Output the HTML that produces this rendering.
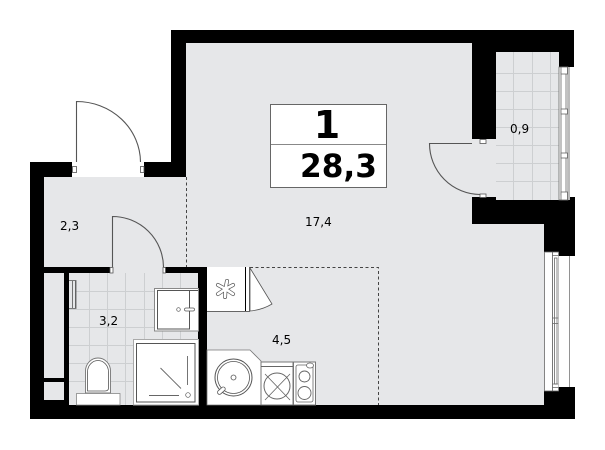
<!DOCTYPE html>
<html><head><meta charset="utf-8"><style>
html,body{margin:0;padding:0;background:#fff}
svg{display:block}
text{font-family:"DejaVu Sans","Liberation Sans",sans-serif;fill:#000}
</style></head><body>
<svg width="605" height="450" viewBox="0 0 605 450" xmlns="http://www.w3.org/2000/svg">
<rect width="605" height="450" fill="#fff"/>
<!-- walls -->
<path fill="#000" d="M171 30H574V67H559V52H496V139H472V43H186V177H44V405H544V391H559V387H575V419H30V162H72V177H144V162H171Z"/>
<path fill="#000" d="M472 197H575V256H559V252H544V224H472Z"/>
<!-- floors -->
<path fill="#e6e7e9" d="M186 43H472V139H496V197H472V224H544V405H207V267H44V177H186Z"/>
<rect x="110" y="262" width="55" height="11" fill="#e6e7e9"/>
<rect x="496" y="52" width="63" height="148" fill="#e6e7e9"/>
<rect x="69" y="273" width="129" height="132" fill="#e6e7e9"/>
<rect x="44" y="273" width="20" height="105" fill="#e6e7e9"/>
<rect x="44" y="382" width="20" height="18" fill="#e6e7e9"/>
<!-- interior black -->
<rect x="44" y="267" width="66" height="6" fill="#000"/>
<rect x="165" y="267" width="42" height="6" fill="#000"/>
<rect x="198" y="267" width="9" height="138" fill="#000"/>
<rect x="64" y="273" width="5" height="132" fill="#000"/>
<rect x="44" y="378" width="20" height="4" fill="#000"/>
<rect x="44" y="400" width="20" height="5" fill="#000"/>
<rect x="30" y="405" width="545" height="14" fill="#000"/>
<rect x="72" y="162" width="72" height="15" fill="#fff"/>
<!-- tiles -->
<g stroke="#cdcfd1" stroke-width="1" fill="none">
<path d="M89.500 273V405M107.500 273V405M125.500 273V405M144.500 273V405M162.500 273V405M180.500 273V405"/>
<path d="M69 291.500H198M69 309.500H198M69 327.500H198M69 345.500H198M69 363.500H198M69 381.500H198"/>
<path d="M513.500 52V200M532.500 52V200M550.500 52V200"/>
<path d="M496 73.500H559M496 91.500H559M496 109.500H559M496 127.500H559M496 145.500H559M496 163.500H559M496 181.500H559"/>
</g>
<!-- dashed -->
<g stroke="#444" stroke-width="1" fill="none" stroke-dasharray="3 2.500">
<path d="M186.500 177V267"/>
<path d="M250 267.500H378.500V405"/>
</g>
<!-- doors -->
<g stroke="#555" stroke-width="1.100" fill="none">
<path d="M76.500 162V101.500A64 61 0 0 1 140.500 162"/>
<path d="M112.500 267V216.500A51 51 0 0 1 163.500 267"/>
<path d="M472 143.500H429.500A51 51 0 0 0 480 194.500"/>
</g>
<g fill="#fff" stroke="#555" stroke-width="0.800">
<rect x="72.500" y="166.500" width="4" height="6"/><rect x="140.500" y="166.500" width="3.500" height="6"/>
<rect x="110" y="267.500" width="3" height="5.500"/><rect x="163" y="267.500" width="2.500" height="5.500"/>
<rect x="480" y="139.500" width="6" height="4"/><rect x="480" y="194" width="6" height="3.500"/>
</g>
<!-- balcony window -->
<g fill="#fff" stroke="#666" stroke-width="0.800">
<rect x="559" y="67" width="9" height="133"/>
<rect x="561" y="72" width="5" height="123"/>
<rect x="561" y="67" width="6.500" height="7"/><rect x="561" y="109" width="6.500" height="5"/><rect x="561" y="153" width="6.500" height="5"/><rect x="561" y="192" width="6.500" height="8"/>
</g>
<rect x="568" y="67" width="2" height="133" fill="#bbb"/>
<!-- right window -->
<g fill="#fff" stroke="#666" stroke-width="0.800">
<rect x="544.500" y="252" width="8" height="139"/>
<rect x="552.500" y="252" width="6" height="139"/>
<rect x="554.500" y="258" width="2.500" height="126"/>
<path d="M552.500 255.500H558.500M552.500 318H558.500M552.500 323.500H558.500M552.500 384H558.500M552.500 387.500H558.500"/>
</g>
<rect x="558.500" y="256" width="16" height="131" fill="#fff"/>
<path d="M569.500 256V387" stroke="#777" stroke-width="0.800"/>
<!-- kitchen -->
<rect x="207" y="267" width="43" height="44" fill="#fff"/>
<path d="M245.500 267V311" stroke="#000" stroke-width="1"/>
<path d="M249.500 267V311.500H207" stroke="#666" stroke-width="1" fill="none"/>
<path d="M250 268L272 304Q262 310 250 311Z" fill="#fff" stroke="#555" stroke-width="0.800"/>
<g stroke-linecap="round" fill="none">
<path d="M225.500 289L227 281M225.500 289L233 285M225.500 289L233 294M225.500 289L225 297M225.500 289L218 294M225.500 289L218 285" stroke="#555" stroke-width="4"/>
<path d="M225.500 289L227 281M225.500 289L233 285M225.500 289L233 294M225.500 289L225 297M225.500 289L218 294M225.500 289L218 285" stroke="#fff" stroke-width="2.600"/>
</g>
<path d="M207 350H250L261 361V405H207Z" fill="#fff" stroke="#777" stroke-width="0.800"/>
<g fill="none" stroke="#555">
<circle cx="233.500" cy="377.500" r="18.500" stroke-width="1"/>
<circle cx="233.500" cy="377.500" r="16" stroke-width="0.800"/>
<circle cx="233.500" cy="377.500" r="2.500" stroke-width="0.800"/>
</g>
<rect x="217" y="389" width="9" height="4" rx="2" transform="rotate(-42 221 391)" fill="#fff" stroke="#555" stroke-width="0.800"/>
<rect x="261" y="362" width="32" height="43" fill="#fff" stroke="#777" stroke-width="1"/>
<path d="M261 366.500H293" stroke="#666" stroke-width="1"/>
<circle cx="277" cy="386" r="13" fill="#fff" stroke="#666" stroke-width="1"/>
<path d="M265 374L290 400M290 374L265 400" stroke="#666" stroke-width="0.800"/>
<rect x="293.500" y="362" width="22" height="43" fill="#fff" stroke="#777" stroke-width="1"/>
<rect x="296" y="365" width="17" height="37" rx="2" fill="none" stroke="#666" stroke-width="0.800"/>
<circle cx="304.500" cy="376.500" r="5.500" fill="#fff" stroke="#666" stroke-width="0.900"/>
<circle cx="304.500" cy="393" r="6.500" fill="#fff" stroke="#666" stroke-width="0.900"/>
<ellipse cx="310" cy="365.500" rx="3.500" ry="2.500" fill="#fff" stroke="#666" stroke-width="0.800"/>
<!-- bathroom fixtures -->
<rect x="154.500" y="288.500" width="44" height="42.500" fill="#fff" stroke="#888" stroke-width="1"/>
<path d="M198 290.500H157.500V329H189.500V290.500" fill="none" stroke="#555" stroke-width="1"/>
<circle cx="178.500" cy="309.500" r="1.800" fill="#fff" stroke="#555" stroke-width="0.700"/>
<rect x="184.500" y="308" width="10" height="3" rx="1.500" fill="#fff" stroke="#555" stroke-width="0.700"/>
<rect x="133.500" y="339.500" width="65" height="65.500" fill="#fff" stroke="#aaa" stroke-width="1"/>
<rect x="136.500" y="343.500" width="58.500" height="58.500" fill="#fff" stroke="#555" stroke-width="1"/>
<path d="M160.500 368L181 388.500M187.500 356V385M149 395.500H179" stroke="#666" stroke-width="0.900"/>
<circle cx="188" cy="395" r="2.300" fill="#fff" stroke="#555" stroke-width="0.700"/>
<path d="M85.500 393V371A12.500 13 0 0 1 110.500 371V393Z" fill="#fff" stroke="#777" stroke-width="0.900"/>
<path d="M87.500 391V372A10.500 11.500 0 0 1 108.500 372V388Q108.500 391 105 391Z" fill="#fff" stroke="#555" stroke-width="0.800"/>
<rect x="76.500" y="393.500" width="43.500" height="11.500" fill="#fff" stroke="#888" stroke-width="0.800"/>
<path d="M69 280.500H76V308.500H69M72.500 281V308M75.500 281V308" fill="#e6e7e9" stroke="#555" stroke-width="0.800"/>
<!-- legend -->
<rect x="270.500" y="104.500" width="116" height="83" fill="#fff" stroke="#666" stroke-width="1"/>
<path d="M271 144.500H386" stroke="#888" stroke-width="1"/>
<text x="327" y="138" text-anchor="middle" font-size="38" font-weight="700">1</text>
<text x="300" y="177" font-size="32" font-weight="700" textLength="77" lengthAdjust="spacingAndGlyphs">28,3</text>
<!-- labels -->
<text x="60" y="230" font-size="12">2,3</text>
<text x="99" y="325" font-size="12">3,2</text>
<text x="272" y="344" font-size="12">4,5</text>
<text x="305" y="226" font-size="12">17,4</text>
<text x="510" y="133" font-size="12">0,9</text>
</svg>
</body></html>
